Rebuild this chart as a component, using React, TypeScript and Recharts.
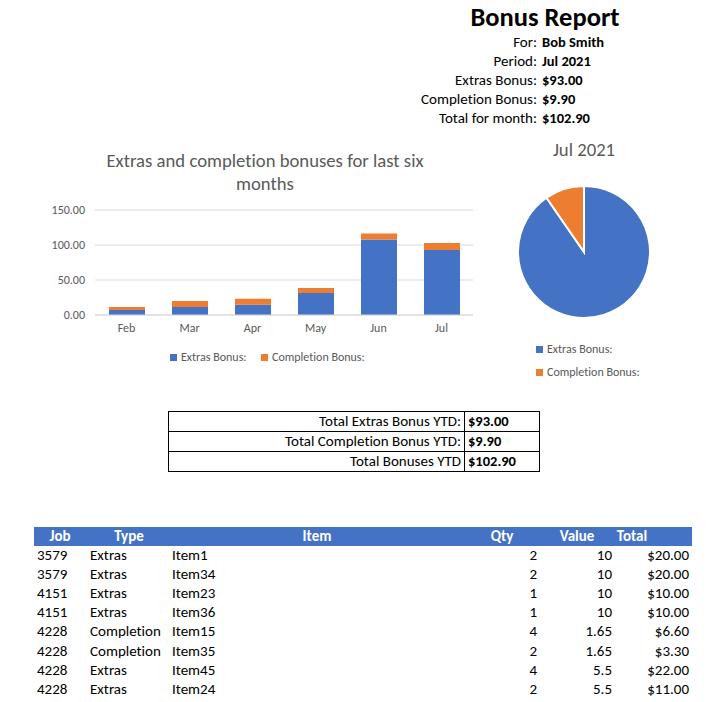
import { BarChart, Bar, XAxis, YAxis, CartesianGrid, PieChart, Pie, Cell } from 'recharts';

const months = ['Feb', 'Mar', 'Apr', 'May', 'Jun', 'Jul'];
const extrasBonus = [7, 11.5, 14.5, 31.5, 108, 93];
const completionBonus = [4.5, 8.5, 8.6, 7.2, 8.3, 9.9];
const yTicks = [0, 50, 100, 150];

const pieNames = ['Extras Bonus:', 'Completion Bonus:'];
const pieValues = [93, 9.9];

const infoLabels = ['For:', 'Period:', 'Extras Bonus:', 'Completion Bonus:', 'Total for month:'];
const infoValues = ['Bob Smith', 'Jul 2021', '$93.00', '$9.90', '$102.90'];

const ytdLabels = ['Total Extras Bonus YTD:', 'Total Completion Bonus YTD:', 'Total Bonuses YTD'];
const ytdValues = ['$93.00', '$9.90', '$102.90'];

const jobs = ['3579', '3579', '4151', '4151', '4228', '4228', '4228', '4228'];
const types = ['Extras', 'Extras', 'Extras', 'Extras', 'Completion', 'Completion', 'Extras', 'Extras'];
const items = ['Item1', 'Item34', 'Item23', 'Item36', 'Item15', 'Item35', 'Item45', 'Item24'];
const qtys = ['2', '2', '1', '1', '4', '2', '4', '2'];
const unitValues = ['10', '10', '10', '10', '1.65', '1.65', '5.5', '5.5'];
const totals = ['$20.00', '$20.00', '$10.00', '$10.00', '$6.60', '$3.30', '$22.00', '$11.00'];

const BLUE = '#4472C4';
const ORANGE = '#ED7D31';
const GRAY = '#595959';
const FONT = 'Calibri, Carlito, Lato, "Open Sans", sans-serif';
const BODY = 15;

const barData = months.map((m, i) => ({ month: m, extras: extrasBonus[i], completion: completionBonus[i] }));
const pieData = pieNames.map((n, i) => ({ name: n, value: pieValues[i] }));
const pieColors = [BLUE, ORANGE];

const abs = (left: number, top: number, extra: React.CSSProperties = {}): React.CSSProperties => ({
  position: 'absolute',
  left,
  top,
  ...extra,
});

function LegendItem({ color, label, left, top }: { color: string; label: string; left: number; top: number }) {
  return (
    <div style={abs(left, top, { display: 'flex', alignItems: 'center', fontSize: 12, color: GRAY, whiteSpace: 'nowrap', lineHeight: '14px' })}>
      <span style={{ display: 'inline-block', width: 7, height: 7, background: color, marginRight: 4 }} />
      {label}
    </div>
  );
}

export default function App() {
  const rowH = 19.2;
  return (
    <div
      style={{
        position: 'absolute',
        left: 0,
        top: 0,
        width: 706,
        height: 702,
        background: '#fff',
        fontFamily: FONT,
        color: '#000',
        fontVariantLigatures: 'none',
      }}
    >
      {/* header block */}
      <div style={abs(445, 1, { width: 200, textAlign: 'center', fontSize: 26.5, fontWeight: 'bold', lineHeight: '32px' })}>
        Bonus Report
      </div>
      {infoLabels.map((l, i) => (
        <div key={l}>
          <div style={abs(337, 33 + i * 19, { width: 200, textAlign: 'right', fontSize: BODY, lineHeight: '19px' })}>{l}</div>
          <div style={abs(542, 33 + i * 19, { fontSize: 14.5, fontWeight: 'bold', lineHeight: '19px' })}>{infoValues[i]}</div>
        </div>
      ))}

      {/* bar chart */}
      <div style={abs(80, 149, { width: 370, textAlign: 'center', fontSize: 18.7, color: GRAY, lineHeight: '23px' })}>
        Extras and completion bonuses for last six months
      </div>
      <div style={abs(40, 140)}>
        <BarChart width={440} height={240} data={barData} margin={{ top: 70, right: 7, bottom: 35, left: 0 }} barSize={36}>
          <CartesianGrid vertical={false} stroke="#D9D9D9" />
          <XAxis
            dataKey="month"
            height={30}
            tickLine={false}
            axisLine={{ stroke: '#D9D9D9' }}
            tick={{ fill: GRAY, fontSize: 12, fontFamily: FONT }}
          />
          <YAxis
            width={55}
            domain={[0, 150]}
            ticks={yTicks}
            tickFormatter={(v: number) => v.toFixed(2)}
            axisLine={false}
            tickLine={false}
            tickMargin={4}
            tick={{ fill: GRAY, fontSize: 12, fontFamily: FONT }}
          />
          <Bar dataKey="extras" stackId="a" fill={BLUE} isAnimationActive={false} />
          <Bar dataKey="completion" stackId="a" fill={ORANGE} isAnimationActive={false} />
        </BarChart>
      </div>
      <LegendItem color={BLUE} label="Extras Bonus:" left={170} top={350} />
      <LegendItem color={ORANGE} label="Completion Bonus:" left={261} top={350} />

      {/* pie chart */}
      <div style={abs(534, 138, { width: 100, textAlign: 'center', fontSize: 18.7, color: GRAY, lineHeight: '23px' })}>
        Jul 2021
      </div>
      <div style={abs(479, 147)}>
        <PieChart width={200} height={200}>
          <Pie
            data={pieData}
            dataKey="value"
            cx={100}
            cy={100}
            outerRadius={66}
            startAngle={90}
            endAngle={-270}
            stroke="#fff"
            strokeWidth={2}
            isAnimationActive={false}
          >
            {pieData.map((d, i) => (
              <Cell key={d.name} fill={pieColors[i]} />
            ))}
          </Pie>
        </PieChart>
      </div>
      <LegendItem color={BLUE} label={pieNames[0]} left={536} top={342} />
      <LegendItem color={ORANGE} label={pieNames[1]} left={536} top={365} />

      {/* YTD box */}
      <div style={abs(168, 411, { width: 372, border: '1px solid #000', boxSizing: 'border-box' })}>
        {ytdLabels.map((l, i) => (
          <div key={l} style={{ display: 'flex', height: 19, borderTop: i ? '1px solid #000' : 'none', fontSize: BODY, lineHeight: '18px' }}>
            <div style={{ width: 296, textAlign: 'right', paddingRight: 3, borderRight: '1px solid #000', boxSizing: 'border-box' }}>{l}</div>
            <div style={{ paddingLeft: 3, fontWeight: 'bold', fontSize: 14.5 }}>{ytdValues[i]}</div>
          </div>
        ))}
      </div>

      {/* detail table */}
      <div style={abs(34, 527, { width: 658, height: 19, background: BLUE })} />
      {[
        ['Job', 60],
        ['Type', 129],
        ['Item', 317],
        ['Qty', 502],
        ['Value', 577],
        ['Total', 632],
      ].map(([t, cx]) => (
        <div key={t as string} style={abs((cx as number) - 40, 527, { width: 80, textAlign: 'center', color: '#fff', fontWeight: 'bold', fontSize: BODY, lineHeight: '19px' })}>
          {t}
        </div>
      ))}
      {jobs.map((j, i) => {
        const top = 545.5 + i * rowH;
        const st = { fontSize: BODY, lineHeight: `${rowH}px` };
        return (
          <div key={i}>
            <div style={abs(37, top, st)}>{j}</div>
            <div style={abs(90, top, st)}>{types[i]}</div>
            <div style={abs(172, top, st)}>{items[i]}</div>
            <div style={abs(437, top, { ...st, width: 100, textAlign: 'right' })}>{qtys[i]}</div>
            <div style={abs(512, top, { ...st, width: 100, textAlign: 'right' })}>{unitValues[i]}</div>
            <div style={abs(589, top, { ...st, width: 100, textAlign: 'right' })}>{totals[i]}</div>
          </div>
        );
      })}
    </div>
  );
}
